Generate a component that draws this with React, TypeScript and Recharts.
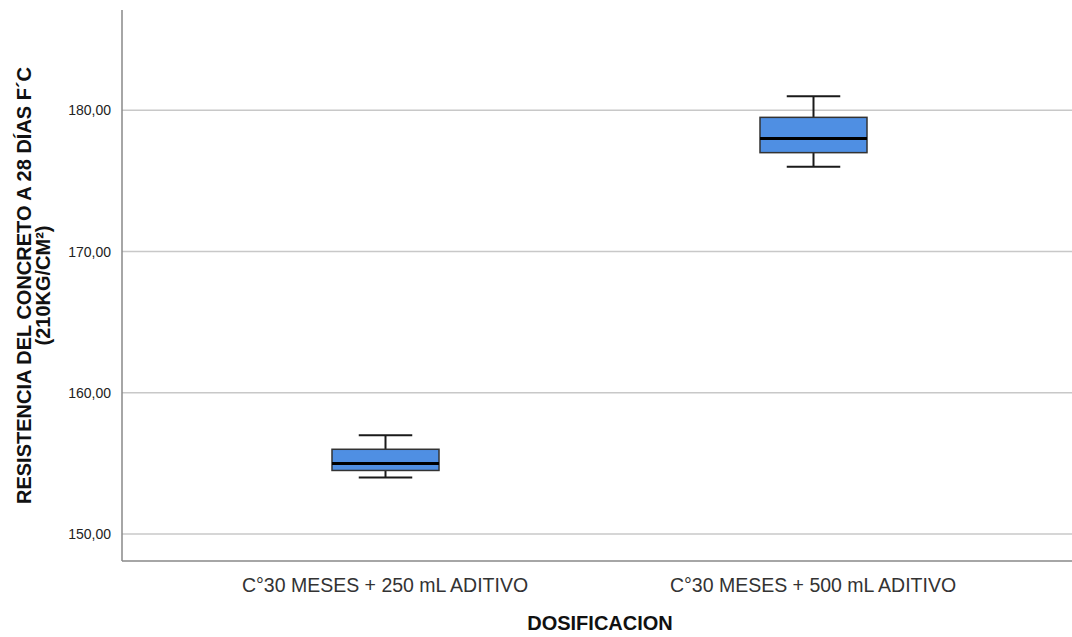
import { ComposedChart, Bar, XAxis, YAxis, CartesianGrid } from "recharts";

// Resistencia a 28 días por dosificación (resumen de cinco números)
const categories = ["C°30 MESES + 250 mL ADITIVO", "C°30 MESES + 500 mL ADITIVO"];
const minimos = [154, 176];
const cuartil1 = [154.5, 177];
const medianas = [155, 178];
const cuartil3 = [156, 179.5];
const maximos = [157, 181];
const yTicks = [150, 160, 170, 180];

const data = categories.map((name, i) => ({
  name,
  range: [minimos[i], maximos[i]],
  min: minimos[i],
  q1: cuartil1[i],
  median: medianas[i],
  q3: cuartil3[i],
  max: maximos[i],
}));

const FONT = "'Liberation Sans', Arial, sans-serif";
const BOX_FILL = "#4f8fe3";
const INK = "#1a1a1a";

// el Bar cubre min..max; se interpolan los cuartiles dentro de ese tramo
const BoxShape = (props: any) => {
  const { x, y, width, height, payload } = props;
  const { min, q1, median, q3, max } = payload;
  const toY = (v: number) => y + (height * (max - v)) / (max - min);
  const cx = x + width / 2;
  const capHalf = width / 4;
  return (
    <g>
      <line x1={cx} x2={cx} y1={toY(max)} y2={toY(q3)} stroke={INK} strokeWidth={2} />
      <line x1={cx} x2={cx} y1={toY(q1)} y2={toY(min)} stroke={INK} strokeWidth={2} />
      <line x1={cx - capHalf} x2={cx + capHalf} y1={toY(max)} y2={toY(max)} stroke={INK} strokeWidth={2} />
      <line x1={cx - capHalf} x2={cx + capHalf} y1={toY(min)} y2={toY(min)} stroke={INK} strokeWidth={2} />
      <rect
        x={x}
        y={toY(q3)}
        width={width}
        height={toY(q1) - toY(q3)}
        fill={BOX_FILL}
        stroke="#333"
        strokeWidth={1.5}
      />
      <line x1={x} x2={x + width} y1={toY(median)} y2={toY(median)} stroke="#000" strokeWidth={3} />
    </g>
  );
};

const YTitle = (props: any) => {
  const { viewBox } = props;
  const cy = viewBox.y + viewBox.height / 2;
  return (
    <text
      transform={`translate(0, ${cy}) rotate(-90)`}
      textAnchor="middle"
      fontFamily={FONT}
      fontWeight="bold"
      fontSize={20}
      fill="#111"
    >
      <tspan x={0} y={31}>RESISTENCIA DEL CONCRETO A 28 DÍAS F´C</tspan>
      <tspan x={0} y={50}>(210KG/CM²)</tspan>
    </text>
  );
};

const XTitle = (props: any) => {
  const { viewBox } = props;
  return (
    <text
      x={viewBox.x + viewBox.width / 2 + 3}
      y={viewBox.y + 69}
      textAnchor="middle"
      fontFamily={FONT}
      fontWeight="bold"
      fontSize={20}
      fill="#111"
    >
      DOSIFICACION
    </text>
  );
};

export default function App() {
  return (
    <div style={{ position: "absolute", left: 0, top: 0, background: "#fff" }}>
      <ComposedChart
        width={1072}
        height={637}
        data={data}
        margin={{ top: 10, right: 0, bottom: 0, left: 0 }}
      >
        <CartesianGrid vertical={false} horizontalValues={yTicks} stroke="#c8c8c8" strokeWidth={1.5} />
        <XAxis
          dataKey="name"
          padding={{ left: 49, right: 45 }}
          axisLine={{ stroke: "#888", strokeWidth: 1.5 }}
          tickLine={false}
          tick={{ fontFamily: FONT, fontSize: 19.5, fill: "#333" }}
          tickMargin={11}
          height={76}
          label={<XTitle />}
        />
        <YAxis
          width={122}
          domain={[148.09, 187.1]}
          ticks={yTicks}
          allowDataOverflow
          tickFormatter={(v: number) => v.toFixed(2).replace(".", ",")}
          axisLine={{ stroke: "#888", strokeWidth: 1.5 }}
          tickLine={false}
          tickMargin={5}
          tick={{ fontFamily: FONT, fontSize: 14, fill: "#222" }}
          label={<YTitle />}
        />
        <Bar dataKey="range" barSize={107} shape={<BoxShape />} isAnimationActive={false} />
      </ComposedChart>
    </div>
  );
}
